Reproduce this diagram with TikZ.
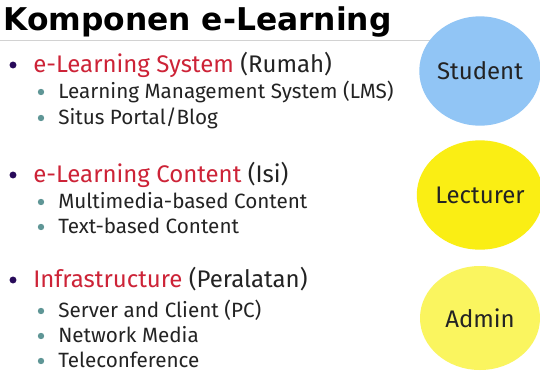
\documentclass[tikz,border=0pt]{standalone}
\usepackage{fontspec}
\setmainfont{Fira Sans}
\newfontfamily\titlefont{DejaVu Sans}
\usetikzlibrary{shapes.geometric}

\definecolor{headred}{RGB}{205,35,55}
\definecolor{inkgray}{RGB}{35,35,35}
\definecolor{dotpurple}{RGB}{40,10,90}
\definecolor{dotteal}{RGB}{95,150,150}
\definecolor{studentblue}{RGB}{145,197,245}
\definecolor{lectureryellow}{RGB}{250,238,20}
\definecolor{adminyellow}{RGB}{250,245,95}

\begin{document}
\begin{tikzpicture}[x=0.75pt,y=-0.75pt,
  head/.style={anchor=base west, inner sep=0pt, text=inkgray, font=\fontsize{18}{21}\selectfont},
  item/.style={anchor=base west, inner sep=0pt, text=inkgray, font=\fontsize{15.5}{18}\selectfont},
  role/.style={ellipse, minimum width=90pt, minimum height=82pt, inner sep=0pt, text=inkgray, font=\fontsize{18}{21}\selectfont}]
  \useasboundingbox (0,0) rectangle (540,372);
  \fill[white] (0,0) rectangle (540,372);
  \draw[gray!35] (0,40) -- (440,40);
  \node[anchor=base west, inner sep=0pt, font=\titlefont\bfseries\fontsize{23.5}{27}\selectfont] (title) at (3,30) {Komponen e-Learning};

  % e-Learning System
  \fill[dotpurple] (13,65) circle (2.6pt);
  \node[head] (sys) at (33,72) {\textcolor{headred}{e-Learning System} (Rumah)};
  \fill[dotteal] (41,92) circle (2.4pt);
  \node[item] (lms) at (58,98) {Learning Management System (LMS)};
  \fill[dotteal] (41,118) circle (2.4pt);
  \node[item] (portal) at (58,124) {Situs Portal/Blog};

  % e-Learning Content
  \fill[dotpurple] (13,175) circle (2.6pt);
  \node[head] (content) at (33,182) {\textcolor{headred}{e-Learning Content} (Isi)};
  \fill[dotteal] (41,202) circle (2.4pt);
  \node[item] (multi) at (58,208) {Multimedia-based Content};
  \fill[dotteal] (41,227) circle (2.4pt);
  \node[item] (textc) at (58,233) {Text-based Content};

  % Infrastructure
  \fill[dotpurple] (13,280) circle (2.6pt);
  \node[head] (infra) at (33,287) {\textcolor{headred}{Infrastructure} (Peralatan)};
  \fill[dotteal] (41,311) circle (2.4pt);
  \node[item] (server) at (58,317) {Server and Client (PC)};
  \fill[dotteal] (41,336) circle (2.4pt);
  \node[item] (network) at (58,342) {Network Media};
  \fill[dotteal] (41,361) circle (2.4pt);
  \node[item] (telecon) at (58,367) {Teleconference};

  % roles
  \begin{scope}
    \clip (0,0) rectangle (540,372);
    \node[role, fill=studentblue] (student) at (480,71) {Student};
    \node[role, fill=lectureryellow] (lecturer) at (480,195) {Lecturer};
    \node[role, fill=adminyellow, minimum height=78pt] (admin) at (480,318) {Admin};
  \end{scope}
\end{tikzpicture}
\end{document}
